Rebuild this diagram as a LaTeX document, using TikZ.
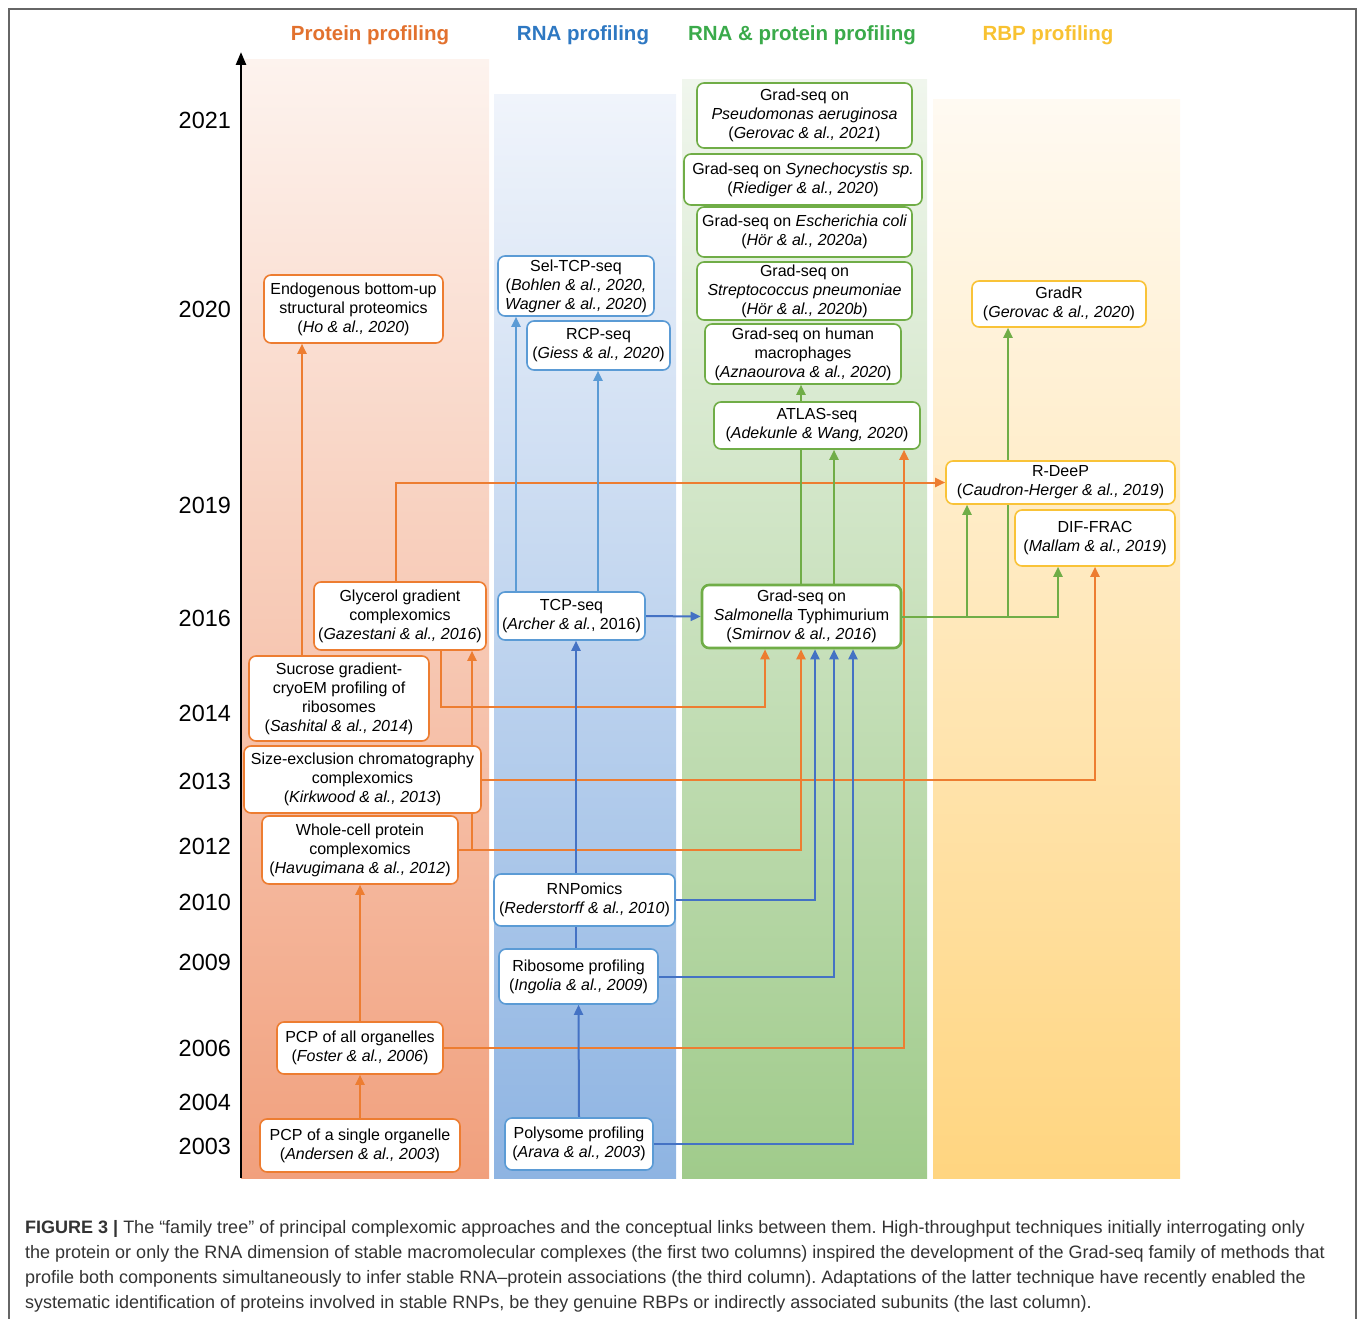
\documentclass[tikz,border=0pt]{standalone}
\usepackage{fontspec}
\setmainfont{Liberation Sans}
\usetikzlibrary{arrows.meta,calc}
\pgfdeclarelayer{bg}\pgfdeclarelayer{lines}
\pgfsetlayers{bg,lines,main}
\definecolor{cOr}{HTML}{ED7D31}
\definecolor{cBl}{HTML}{4472C4}
\definecolor{cBlL}{HTML}{5B9BD5}
\definecolor{cGr}{HTML}{70AD47}
\definecolor{cYe}{HTML}{F9C338}
\definecolor{hOr}{HTML}{E2712E}
\definecolor{hBl}{HTML}{2E78C2}
\definecolor{hGr}{HTML}{3AAA4A}
\definecolor{hYe}{HTML}{F8C232}
\definecolor{capgray}{HTML}{333333}
\newcommand{\myit}[1]{{\itshape #1}}
\begin{document}
\begin{tikzpicture}[x=1pt,y=-1pt,
  box/.style={draw, fill=white, rounded corners=7pt, line width=1.6pt, align=center, inner sep=0pt, font=\fontsize{16}{19}\selectfont, execute at begin node={\rule{0pt}{15.5pt}}},
  pb/.style={box, draw=cOr},
  rb/.style={box, draw=cBlL},
  gb/.style={box, draw=cGr},
  yb/.style={box, draw=cYe},
  tip/.style={-{Triangle[length=10pt,width=9pt]}},
  oa/.style={draw=cOr, line width=2pt, tip},
  ba/.style={draw=cBl, line width=2pt, tip},
  bla/.style={draw=cBlL, line width=2pt, tip},
  ga/.style={draw=cGr, line width=2pt, tip},
  head/.style={font=\fontsize{20.5}{24}\selectfont\bfseries, inner sep=0pt},
  yr/.style={anchor=east, font=\fontsize{23.4}{26}\selectfont, inner sep=0pt}]
\useasboundingbox (0,0) rectangle (1358,1319);
\draw[gray!80!black, line width=1.2pt] (9,9) rectangle (1356,1345);

% column backgrounds
\begin{pgfonlayer}{bg}
\shade[top color={rgb,255:red,253;green,243;blue,238}, bottom color={rgb,255:red,241;green,160;blue,125}] (241,60) rectangle (489,1178);
\shade[top color={rgb,255:red,240;green,244;blue,251}, bottom color={rgb,255:red,142;green,180;blue,226}] (494,95) rectangle (676,1178);
\shade[top color={rgb,255:red,240;green,246;blue,237}, bottom color={rgb,255:red,160;green,203;blue,139}] (682,80) rectangle (927,1178);
\shade[top color={rgb,255:red,255;green,250;blue,242}, bottom color={rgb,255:red,255;green,213;blue,128}] (933,100) rectangle (1180,1178);
\end{pgfonlayer}

% axis
\coordinate (axb) at (241,1178);
\coordinate (axt) at (241,52);
\draw[line width=2.5pt, -{Triangle[length=13pt,width=10pt]}] (axb) -- (axt);

% headers
\node[head, text=hOr] (h1) at (370,35) {Protein profiling};
\node[head, text=hBl] (h2) at (583,35) {RNA profiling};
\node[head, text=hGr] (h3) at (802,35) {RNA \& protein profiling};
\node[head, text=hYe] (h4) at (1048,35) {RBP profiling};

% years
\node[yr] (y21) at (231,120) {2021};
\node[yr] (y20) at (231,309) {2020};
\node[yr] (y19) at (231,505) {2019};
\node[yr] (y16) at (231,618) {2016};
\node[yr] (y14) at (231,713) {2014};
\node[yr] (y13) at (231,781) {2013};
\node[yr] (y12) at (231,846) {2012};
\node[yr] (y10) at (231,902) {2010};
\node[yr] (y09) at (231,962) {2009};
\node[yr] (y06) at (231,1048) {2006};
\node[yr] (y04) at (231,1102) {2004};
\node[yr] (y03) at (231,1146) {2003};

% protein column
\node[pb, minimum width=179pt, minimum height=68pt] (endo) at (353.5,309) {Endogenous bottom-up\\structural proteomics\\(\myit{Ho \& al., 2020})};
\node[pb, minimum width=172pt, minimum height=68pt] (glyc) at (400,616) {Glycerol gradient\\complexomics\\(\myit{Gazestani \& al., 2016})};
\node[pb, minimum width=180pt, minimum height=85pt] (sucr) at (339,698.5) {Sucrose gradient-\\cryoEM profiling of\\ribosomes\\(\myit{Sashital \& al., 2014})};
\node[pb, minimum width=237pt, minimum height=67pt] (sec) at (362.5,779.5) {Size-exclusion chromatography\\complexomics\\(\myit{Kirkwood \& al., 2013})};
\node[pb, minimum width=196pt, minimum height=68pt] (whole) at (360,850) {Whole-cell protein\\complexomics\\(\myit{Havugimana \& al., 2012})};
\node[pb, minimum width=166pt, minimum height=52pt] (pcp2) at (360,1048) {PCP of all organelles\\(\myit{Foster \& al., 2006})};
\node[pb, minimum width=200pt, minimum height=53pt] (pcp1) at (360,1145.5) {PCP of a single organelle\\(\myit{Andersen \& al., 2003})};

% RNA column
\node[rb, minimum width=156pt, minimum height=60pt] (sel) at (576,286) {Sel-TCP-seq\\(\myit{Bohlen \& al., 2020,}\\\myit{Wagner \& al., 2020})};
\node[rb, minimum width=143pt, minimum height=49pt] (rcp) at (598.5,345.5) {RCP-seq\\(\myit{Giess \& al., 2020})};
\node[rb, minimum width=147pt, minimum height=48pt] (tcp) at (571.5,616) {TCP-seq\\(\myit{Archer \& al.}, 2016)};
\node[rb, minimum width=181pt, minimum height=52pt] (rnp) at (584.5,900) {RNPomics\\(\myit{Rederstorff \& al., 2010})};
\node[rb, minimum width=159pt, minimum height=55pt] (ribo) at (578.5,976.5) {Ribosome profiling\\(\myit{Ingolia \& al., 2009})};
\node[rb, minimum width=148pt, minimum height=52pt] (poly) at (579,1144) {Polysome profiling\\(\myit{Arava \& al., 2003})};

% RNA & protein column
\node[gb, minimum width=215pt, minimum height=65pt] (pseu) at (804.5,115.5) {Grad-seq on\\\myit{Pseudomonas aeruginosa}\\(\myit{Gerovac \& al., 2021})};
\node[gb, minimum width=238pt, minimum height=51pt] (syn) at (803,179.5) {Grad-seq on \myit{Synechocystis sp.}\\(\myit{Riediger \& al., 2020})};
\node[gb, minimum width=215pt, minimum height=50pt] (eco) at (804.5,232) {Grad-seq on \myit{Escherichia coli}\\(\myit{Hör \& al., 2020a})};
\node[gb, minimum width=215pt, minimum height=58pt] (strep) at (804.5,291) {Grad-seq on\\\myit{Streptococcus pneumoniae}\\(\myit{Hör \& al., 2020b})};
\node[gb, minimum width=196pt, minimum height=60pt] (mac) at (803,354) {Grad-seq on human\\macrophages\\(\myit{Aznaourova \& al., 2020})};
\node[gb, minimum width=206pt, minimum height=47pt] (atlas) at (817,425.5) {ATLAS-seq\\(\myit{Adekunle \& Wang, 2020})};
\node[gb, line width=2.6pt, minimum width=199pt, minimum height=63pt] (salm) at (801.5,616.5) {Grad-seq on\\\myit{Salmonella} Typhimurium\\(\myit{Smirnov \& al., 2016})};

% RBP column
\node[yb, minimum width=174pt, minimum height=46pt] (gradr) at (1059,304) {GradR\\(\myit{Gerovac \& al., 2020})};
\node[yb, minimum width=229pt, minimum height=43pt] (rdeep) at (1060.5,482.5) {R-DeeP\\(\myit{Caudron-Herger \& al., 2019})};
\node[yb, minimum width=160pt, minimum height=56pt] (dif) at (1095,538) {DIF-FRAC\\(\myit{Mallam \& al., 2019})};

% connectors
\begin{pgfonlayer}{lines}
\draw[oa] (pcp1.north) -- (pcp2.south);
\draw[oa] (pcp2.north) -- (whole.south);
\draw[oa] (pcp2.east) -| (904,0 |- atlas.south);
\draw[oa] (302,0 |- sucr.north) -- (302,0 |- endo.south);
\draw[oa] (396,0 |- glyc.north) |- (rdeep.west);
\draw[oa] (441,0 |- glyc.south) -- (441,707) -| (765,0 |- salm.south);
\draw[oa] (whole.east) -| (801,0 |- salm.south);
\draw[oa] (472,0 |- whole.east) -- (472,0 |- glyc.south);
\draw[oa] (sec.east) -| (1095,0 |- dif.south);
\draw[ba] (poly.north) -- (ribo.south);
\draw[ba] (576,0 |- ribo.north) -- (576,0 |- tcp.south);
\draw[bla] (516,0 |- tcp.north) -- (516,0 |- sel.south);
\draw[bla] (598,0 |- tcp.north) -- (598,0 |- rcp.south);
\draw[ba] (tcp.east) -- (salm.west);
\draw[ba] (rnp.east) -| (815,0 |- salm.south);
\draw[ba] (ribo.east) -| (834,0 |- salm.south);
\draw[ba] (poly.east) -| (853,0 |- salm.south);
\draw[ga] (801,0 |- salm.north) -- (801,0 |- mac.south);
\draw[ga] (834,0 |- salm.north) -- (834,0 |- atlas.south);
\draw[ga] (salm.east) -| (1058,0 |- dif.south);
\draw[ga] (967,0 |- salm.east) -- (967,0 |- rdeep.south);
\draw[ga] (1008,0 |- salm.east) -- (1008,0 |- gradr.south);
\end{pgfonlayer}

% caption
\node[anchor=north west, align=left, inner sep=0pt, text=capgray, font=\fontsize{18}{25}\selectfont\frenchspacing] (cap) at (25,1220) {\textbf{FIGURE 3 |} The “family tree” of principal complexomic approaches and the conceptual links between them. High-throughput techniques initially interrogating only\\the protein or only the RNA dimension of stable macromolecular complexes (the first two columns) inspired the development of the Grad-seq family of methods that\\profile both components simultaneously to infer stable RNA–protein associations (the third column). Adaptations of the latter technique have recently enabled the\\systematic identification of proteins involved in stable RNPs, be they genuine RBPs or indirectly associated subunits (the last column).};
\end{tikzpicture}
\end{document}
